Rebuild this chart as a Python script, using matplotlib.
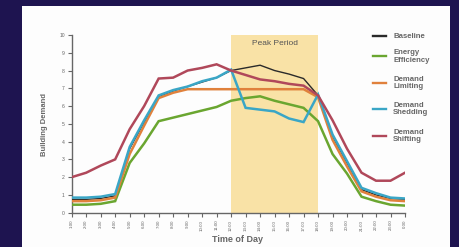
import matplotlib as mpl
mpl.use("Agg")
import matplotlib.pyplot as plt
from matplotlib.patches import Rectangle
from matplotlib.lines import Line2D

mpl.rcParams.update({"font.family": ["Liberation Sans Narrow", "Liberation Sans", "DejaVu Sans"]})

# ── Data ──────────────────────────────────────────────────────────────────────
HOURS = [f"{h}:00" for h in range(1, 24)] + ["0:00"]

BASELINE = [0.75, 0.75, 0.8, 0.95, 3.6, 5.1, 6.55, 6.85, 7.1, 7.35, 7.6, 8.0,
            8.15, 8.3, 8.0, 7.8, 7.55, 6.6, 4.3, 2.8, 1.3, 1.0, 0.8, 0.75]
EFFICIENCY = [0.45, 0.45, 0.5, 0.65, 2.8, 3.9, 5.15, 5.35, 5.55, 5.75, 5.95, 6.3,
              6.45, 6.55, 6.3, 6.1, 5.9, 5.15, 3.3, 2.2, 0.9, 0.65, 0.45, 0.4]
LIMITING = [0.65, 0.65, 0.7, 0.85, 3.3, 4.9, 6.45, 6.75, 6.95, 6.95, 6.95, 6.95,
            6.95, 6.95, 6.95, 6.95, 6.95, 6.5, 4.1, 2.6, 1.2, 0.9, 0.7, 0.65]
SHEDDING = [0.85, 0.85, 0.9, 1.05, 3.7, 5.2, 6.6, 6.9, 7.1, 7.4, 7.6, 8.05,
            5.9, 5.8, 5.7, 5.3, 5.1, 6.65, 4.4, 2.9, 1.4, 1.1, 0.85, 0.8]
SHIFTING = [2.0, 2.25, 2.65, 3.0, 4.7, 6.0, 7.55, 7.6, 8.0, 8.15, 8.35, 8.0,
            7.75, 7.5, 7.4, 7.25, 7.15, 6.6, 5.2, 3.6, 2.25, 1.8, 1.8, 2.25]

SERIES = [
    ("Baseline", BASELINE, "#2a2a2a"),
    ("Energy\nEfficiency", EFFICIENCY, "#6aa630"),
    ("Demand\nLimiting", LIMITING, "#e0813c"),
    ("Demand\nShedding", SHEDDING, "#3aa6c6"),
    ("Demand\nShifting", SHIFTING, "#b0485a"),
]
# draw order: shifting, efficiency, limiting, baseline, shedding on top
DRAW_ORDER = [4, 1, 2, 0, 3]

PEAK_START, PEAK_END = "12:00", "18:00"

# ── Figure ────────────────────────────────────────────────────────────────────
fig = plt.figure(figsize=(4.59, 2.47), dpi=100)
fig.patch.set_facecolor("#1e1450")
fig.patches.append(Rectangle((22 / 459, 0), 428 / 459, 241 / 247,
                             transform=fig.transFigure, facecolor="#fdfdfd",
                             edgecolor="none", zorder=0))

ax = fig.add_axes([71.7 / 459, 1 - 212.7 / 247, 333.3 / 459, 177.7 / 247])
ax.set_facecolor("none")
ax.set_zorder(2)

x = list(range(len(HOURS)))
i0, i1 = HOURS.index(PEAK_START), HOURS.index(PEAK_END)
ax.axvspan(i0, i1, ymin=0, ymax=1.005, facecolor="#f9e2a6", edgecolor="none", zorder=1)
ax.text((i0 + i1) / 2, 9.5, "Peak Period", ha="center", va="center",
        fontsize=6, color="#555555", zorder=2)

for k in DRAW_ORDER:
    label, vals, color = SERIES[k]
    lw = 1.0 if k == 0 else 1.8
    ax.plot(x, vals, color=color, lw=lw, zorder=3 + k, solid_joinstyle="miter")

ax.set_xlim(0, len(HOURS) - 1)
ax.set_ylim(0, 10)
ax.set_xticks(x)
ax.set_xticklabels(HOURS, rotation=90, fontsize=3.2, color="#666666")
ax.set_yticks(range(0, 11))
ax.tick_params(axis="y", labelsize=3.6, colors="#666666", length=3, width=0.8, pad=2)
ax.tick_params(axis="x", colors="#666666", length=3, width=0.8, pad=2)
for s in ["top", "right"]:
    ax.spines[s].set_visible(False)
for s in ["left", "bottom"]:
    ax.spines[s].set_color("#666666")
    ax.spines[s].set_linewidth(1.0)

fig.text(44 / 459, 1 - 125 / 247, "Building Demand", rotation=90, ha="center",
         va="center", fontsize=5.5, fontweight="bold", color="#666666")
fig.text(237 / 459, 1 - 239 / 247, "Time of Day", ha="center", va="center",
         fontsize=6.5, fontweight="bold", color="#666666")

# ── Legend ────────────────────────────────────────────────────────────────────
leg_y = [36, 56.5, 83, 109, 136]
for (label, _, color), y in zip(SERIES, leg_y):
    yf = 1 - y / 247
    fig.add_artist(Line2D([373 / 459, 386 / 459], [yf, yf], color=color,
                          lw=1.7, transform=fig.transFigure))
    fig.text(393 / 459, yf, label, ha="left", va="center", fontsize=5.6,
             fontweight="bold", color="#666666", linespacing=1.15)

fig.savefig("out.png", dpi=100, facecolor=fig.get_facecolor())
